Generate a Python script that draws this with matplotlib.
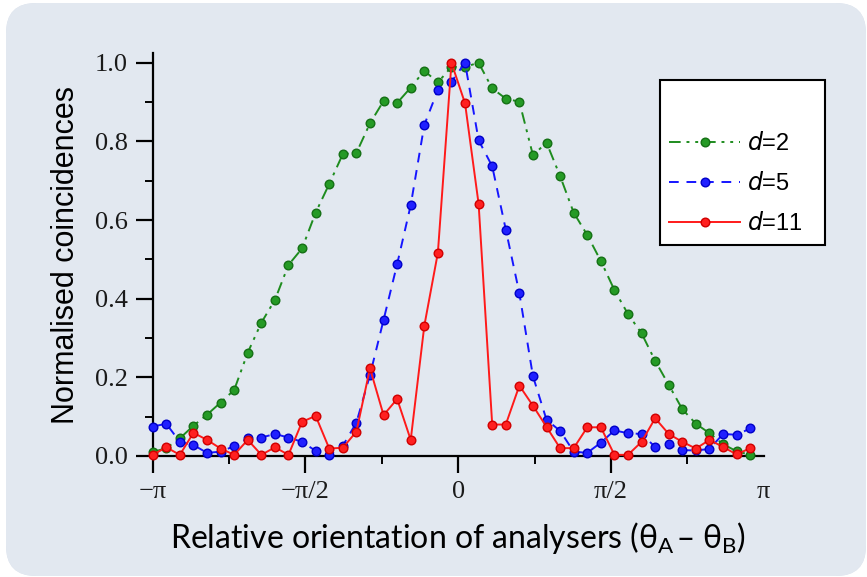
import matplotlib
matplotlib.use("Agg")
import matplotlib.pyplot as plt
from matplotlib.patches import FancyBboxPatch
from matplotlib.ticker import FixedLocator
import numpy as np

# relative analyser angle (degrees), 8 degree steps
ANGLES_DEG = [-180, -172, -164, -156, -148, -140, -132, -124, -116, -108,
              -100, -92, -84, -76, -68, -60, -52, -44, -36, -28,
              -20, -12, -4, 4, 12, 20, 28, 36, 44, 52,
              60, 68, 76, 84, 92, 100, 108, 116, 124, 132,
              140, 148, 156, 164, 172]

D2 = [0.010, 0.020, 0.045, 0.077, 0.105, 0.136, 0.168, 0.263, 0.339, 0.397,
      0.486, 0.528, 0.619, 0.692, 0.768, 0.771, 0.846, 0.903, 0.898, 0.937,
      0.980, 0.950, 0.990, 0.990, 1.000, 0.935, 0.909, 0.901, 0.765, 0.797,
      0.712, 0.619, 0.562, 0.496, 0.422, 0.361, 0.312, 0.242, 0.181, 0.119,
      0.082, 0.058, 0.030, 0.012, 0.003]

D5 = [0.075, 0.082, 0.036, 0.028, 0.008, 0.011, 0.025, 0.045, 0.047, 0.056,
      0.047, 0.036, 0.013, 0.002, 0.026, 0.085, 0.206, 0.346, 0.488, 0.638,
      0.842, 0.931, 0.952, 1.000, 0.803, 0.737, 0.576, 0.414, 0.203, 0.092,
      0.064, 0.011, 0.008, 0.034, 0.065, 0.058, 0.056, 0.023, 0.030, 0.015,
      0.014, 0.018, 0.056, 0.054, 0.070]

D11 = [0.003, 0.022, 0.003, 0.059, 0.041, 0.019, 0.003, 0.041, 0.003, 0.022,
       0.003, 0.087, 0.102, 0.019, 0.021, 0.062, 0.223, 0.104, 0.145, 0.041,
       0.331, 0.517, 1.000, 0.897, 0.641, 0.080, 0.080, 0.179, 0.128, 0.074,
       0.020, 0.020, 0.073, 0.073, 0.003, 0.003, 0.036, 0.096, 0.056, 0.036,
       0.019, 0.041, 0.023, 0.004, 0.020]

XTICKS = [-np.pi, -np.pi / 2, 0, np.pi / 2, np.pi]
XTICKLABELS = ["\u2212\u03c0", "\u2212\u03c0/2", "0", "\u03c0/2", "\u03c0"]

W, H = 867, 577
fig = plt.figure(figsize=(W / 100, H / 100), dpi=100)
fig.patch.set_facecolor("white")

# rounded light panel with a soft gradient
bg = fig.add_axes([0, 0, 1, 1], zorder=-5)
bg.set_xlim(0, W)
bg.set_ylim(0, H)
bg.axis("off")
panel = FancyBboxPatch((6, 1), 860, 573, boxstyle="round,pad=0,rounding_size=30",
                       facecolor="#e2e8f0", edgecolor="none")
bg.add_patch(panel)
gx, gy = np.meshgrid(np.linspace(-1, 1, 300), np.linspace(-1, 1, 200))
grad = np.sqrt(gx ** 2 + gy ** 2)
im = bg.imshow(grad, extent=(6, 866, 1, 574), cmap=matplotlib.colors.LinearSegmentedColormap.from_list(
    "panel", ["#f6f8fb", "#e8edf3", "#dbe3ed"]), vmin=0.0, vmax=1.4, origin="lower", aspect="auto")
im.set_clip_path(panel)

ax = fig.add_axes([152.7 / W, 1 - 456 / H, (763.8 - 152.7) / W, (456 - 53) / H])
ax.patch.set_alpha(0)

x = np.deg2rad(ANGLES_DEG)
common = dict(marker="o", markersize=6.2, linewidth=1.4, clip_on=False, zorder=3)
ax.plot(x, D2, color="#1e8c1e", dashes=(6, 3, 1.5, 3, 1.5, 3),
        markeredgecolor="#157015", markerfacecolor="#259a25", label="$\\it{d}$=2", **common)
ax.plot(x, D5, color="#1515ff", dashes=(5, 4),
        markeredgecolor="#0000c8", markerfacecolor="#2020ff", label="$\\it{d}$=5", **common)
ax.plot(x, D11, color="#ff1a1a", linestyle="-",
        markeredgecolor="#d00000", markerfacecolor="#ff2020", label="$\\it{d}$=11", **common)

ax.set_xlim(-np.pi, np.pi)
ax.set_ylim(0, 1.025)

for side in ["top", "right"]:
    ax.spines[side].set_visible(False)
for side in ["left", "bottom"]:
    ax.spines[side].set_linewidth(1.6)

ax.set_xticks(XTICKS)
ax.set_xticklabels(XTICKLABELS)
ax.xaxis.set_minor_locator(FixedLocator([-3 * np.pi / 4, -np.pi / 4, np.pi / 4, 3 * np.pi / 4]))
ax.set_yticks([0.0, 0.2, 0.4, 0.6, 0.8, 1.0])
ax.set_yticklabels(["0.0", "0.2", "0.4", "0.6", "0.8", "1.0"])
ax.yaxis.set_minor_locator(FixedLocator([0.1, 0.3, 0.5, 0.7, 0.9]))
ax.tick_params(which="major", direction="out", length=12, width=1.6, labelsize=19, pad=6)
ax.tick_params(which="minor", direction="out", length=6, width=1.4)
ax.tick_params(axis="x", which="major", pad=6)
ax.xaxis.get_major_ticks()[-1].tick1line.set_visible(False)
for lab in ax.get_xticklabels() + ax.get_yticklabels():
    lab.set_fontfamily("Liberation Serif")
    lab.set_color("#1a1a1a")

ax.set_ylabel("Normalised coincidences", fontsize=22, family="Liberation Sans", labelpad=10)
ax.set_xlabel("Relative orientation of analysers (\u03b8$_\\mathregular{A}$\u2009\u2013 \u03b8$_\\mathregular{B}$)",
              fontsize=23, family="Lato", labelpad=12)

leg = ax.legend(loc="upper left", bbox_to_anchor=(0.830, 0.516, 0.270, 0.417), mode="expand",
                fancybox=False, edgecolor="black", framealpha=1.0, fontsize=17,
                title=" ", title_fontsize=19, handlelength=3.0, handletextpad=0.3,
                labelspacing=0.72, borderpad=0.4, borderaxespad=0)
leg.get_frame().set_linewidth(1.5)
for t in leg.get_texts():
    t.set_fontfamily("Liberation Sans")

fig.savefig("out.png", dpi=100)
